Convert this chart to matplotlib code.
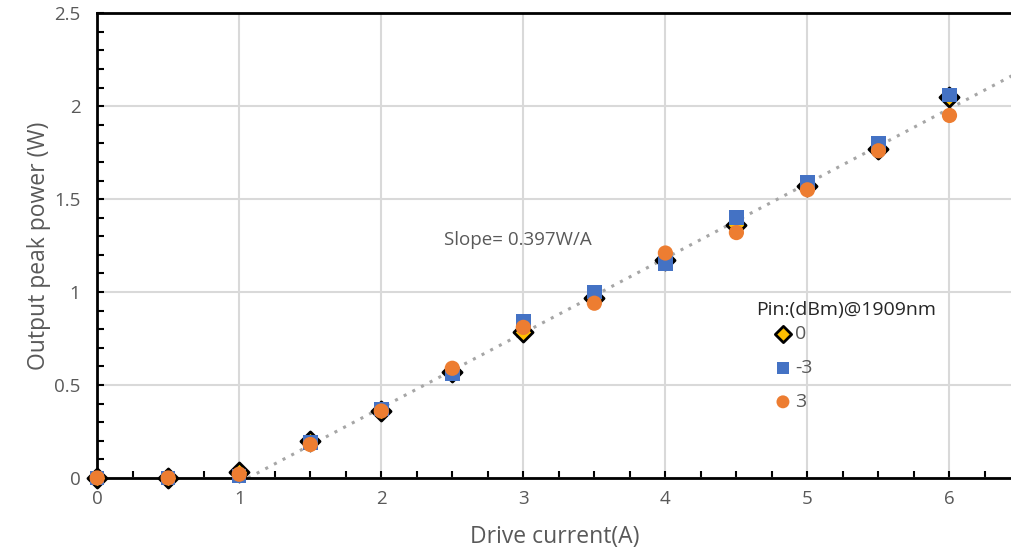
import numpy as np
import matplotlib
matplotlib.use("Agg")
import matplotlib.pyplot as plt
from matplotlib.ticker import MultipleLocator

plt.rcParams['font.family'] = ['Open Sans', 'DejaVu Sans']

# drive current (A)
current = [0, 0.5, 1, 1.5, 2, 2.5, 3, 3.5, 4, 4.5, 5, 5.5, 6]
# output peak power (W) for each input power
p_0dbm = [0, 0, 0.03, 0.20, 0.36, 0.57, 0.785, 0.97, 1.17, 1.36, 1.57, 1.77, 2.05]
p_m3dbm = [0, 0, 0.01, 0.19, 0.37, 0.56, 0.845, 1.00, 1.155, 1.40, 1.59, 1.80, 2.06]
p_3dbm = [0, 0, 0.02, 0.18, 0.36, 0.59, 0.81, 0.94, 1.21, 1.32, 1.55, 1.76, 1.95]
series_labels = ['0', '-3', '3']
legend_title = 'Pin:(dBm)@1909nm'
slope_text = 'Slope= 0.397W/A'

grey = '#595959'

fig = plt.figure(figsize=(10.12, 5.5), dpi=100)
ax = fig.add_axes([0.096, 0.131, 0.904, 0.845])

ax.set_xlim(0, 6.44)
ax.set_ylim(0, 2.5)

ax.grid(True, color='#d9d9d9', linewidth=1.5, zorder=0)
ax.set_axisbelow(True)

# linear fit above threshold, clipped at zero power
x = np.array(current)
mask = x >= 1.5
ys = np.concatenate([np.array(p)[mask] for p in (p_0dbm, p_m3dbm, p_3dbm)])
xs = np.tile(x[mask], 3)
k, b = np.polyfit(xs, ys, 1)
x0 = -b / k
xfit = np.array([x0, 6.44])
ax.plot(xfit, k * xfit + b, linestyle=(0, (1, 2.2)), color='#a6a6a6',
        linewidth=2.2, zorder=2)

ax.scatter(current, p_0dbm, marker='D', s=95, color='#ffc000', edgecolor='black',
           linewidth=2, zorder=3, label=series_labels[0], clip_on=False)
ax.scatter(current, p_m3dbm, marker='s', s=110, color='#4472c4', edgecolor='none',
           zorder=4, label=series_labels[1], clip_on=False)
ax.scatter(current, p_3dbm, marker='o', s=120, color='#ed7d31', edgecolor='none',
           zorder=5, label=series_labels[2], clip_on=False)

ax.text(2.44, 1.28, slope_text, color=grey, fontsize=13.5, va='center', ha='left')

ax.xaxis.set_major_locator(MultipleLocator(1))
ax.xaxis.set_minor_locator(MultipleLocator(0.25))
ax.yaxis.set_major_locator(MultipleLocator(0.5))
ax.yaxis.set_minor_locator(MultipleLocator(0.1))
ax.tick_params(which='both', direction='in', color='black', width=1.5,
               top=False, right=False)
ax.tick_params(which='major', length=5, labelsize=13.5, labelcolor=grey)
ax.tick_params(which='minor', length=5)
ax.tick_params(axis='x', which='major', pad=9)
ax.tick_params(axis='y', which='major', pad=12)
ax.xaxis.set_major_formatter(plt.FuncFormatter(lambda v, p: f'{v:g}'))
ax.yaxis.set_major_formatter(plt.FuncFormatter(lambda v, p: f'{v:g}'))

for s in ('left', 'bottom', 'top'):
    ax.spines[s].set_color('black')
    ax.spines[s].set_linewidth(2)
ax.spines['right'].set_visible(False)

ax.set_xlabel('Drive current(A)', fontsize=16.5, color=grey, labelpad=12)
ax.set_ylabel('Output peak power (W)', fontsize=16.5, color=grey, labelpad=2)

# legend title as separate text, entries below it
ax.text(0.72, 0.361, legend_title, transform=ax.transAxes, fontsize=14,
        color='#262626', ha='left', va='center')
leg = ax.legend(loc='upper left', bbox_to_anchor=(0.722, 0.329),
                frameon=False, fontsize=14, handlelength=2.6,
                handletextpad=-0.69, labelspacing=0.82, markerscale=0.85,
                borderaxespad=0, borderpad=0)
for t in leg.get_texts():
    t.set_color(grey)

fig.savefig('out.png', dpi=100)
